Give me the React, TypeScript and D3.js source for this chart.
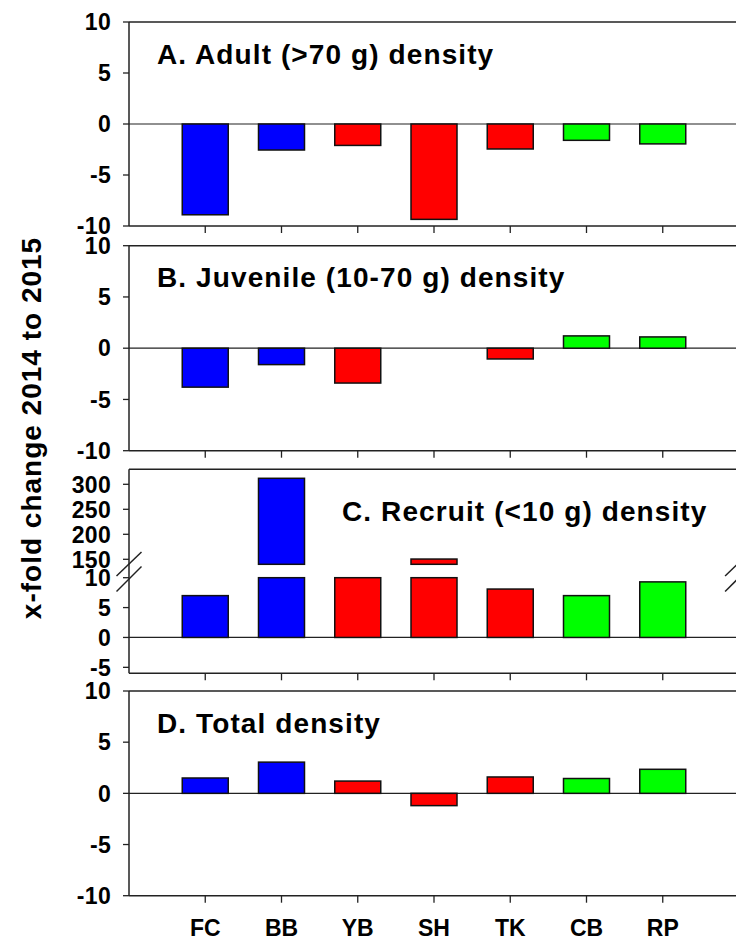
import React from "react";
import * as d3 from "d3";

const categories = ["FC", "BB", "YB", "SH", "TK", "CB", "RP"];
const barColors = ["#0000FF", "#0000FF", "#FF0000", "#FF0000", "#FF0000", "#00FF00", "#00FF00"];
const adultValues = [-8.9, -2.55, -2.1, -9.35, -2.45, -1.6, -1.95];
const juvenileValues = [-3.8, -1.6, -3.4, 0, -1.05, 1.2, 1.1];
const recruitValues = [7.0, 312, 10, 150.5, 8.1, 7.0, 9.3];
const totalValues = [1.5, 3.05, 1.2, -1.2, 1.6, 1.45, 2.35];
const standardTicks = [10, 5, 0, -5, -10];
const recruitLowerTicks = [10, 5, 0, -5];
const recruitUpperTicks = [300, 250, 200, 150];
const panelTitles = [
  "A. Adult (>70 g) density",
  "B. Juvenile (10-70 g) density",
  "C. Recruit (<10 g) density",
  "D. Total density",
];
const yTitle = "x-fold change 2014 to 2015";

const W = 736;
const H = 939;
const X0 = 129;
const X1 = 739;
const BAR_W = 46;
const AXIS = "#222";
const FONT = "'Liberation Sans', Arial, Helvetica, sans-serif";

const x = d3.scaleLinear().domain([0, categories.length + 1]).range([X0, X1]);

function YTicks({ y, ticks }: { y: d3.ScaleLinear<number, number>; ticks: number[] }) {
  return (
    <g>
      {ticks.map((t) => (
        <g key={t}>
          <line x1={X0 - 6} x2={X0} y1={y(t)} y2={y(t)} stroke={AXIS} strokeWidth={1.3} />
          <text
            x={X0 - 18}
            y={y(t)}
            dy="0.36em"
            textAnchor="end"
            fontFamily={FONT}
            fontWeight="bold"
            fontSize={23}
            letterSpacing={0.3}
            fill="#000"
          >
            {t}
          </text>
        </g>
      ))}
    </g>
  );
}

function Frame({ top, bottom }: { top: number; bottom: number }) {
  return (
    <g>
      <line x1={X0} x2={X1} y1={top} y2={top} stroke={AXIS} strokeWidth={1.5} />
      <line x1={X0} x2={X1} y1={bottom} y2={bottom} stroke={AXIS} strokeWidth={1.5} />
      <line x1={X0} x2={X0} y1={top} y2={bottom} stroke={AXIS} strokeWidth={1.5} />
      {categories.map((c, i) => (
        <line key={c} x1={x(i + 1)} x2={x(i + 1)} y1={bottom} y2={bottom + 7} stroke={AXIS} strokeWidth={1.3} />
      ))}
    </g>
  );
}

function Title({ text, tx, ty }: { text: string; tx: number; ty: number }) {
  return (
    <text x={tx} y={ty} fontFamily={FONT} fontWeight="bold" fontSize={28} letterSpacing={1.1} fill="#000">
      {text}
    </text>
  );
}

function SimplePanel({
  values,
  top,
  bottom,
  title,
}: {
  values: number[];
  top: number;
  bottom: number;
  title: string;
}) {
  const y = d3.scaleLinear().domain([-10, 10]).range([bottom, top]);
  return (
    <g>
      <line x1={X0} x2={X1} y1={y(0)} y2={y(0)} stroke={AXIS} strokeWidth={1.2} />
      {values.map((v, i) =>
        v === 0 ? null : (
          <rect
            key={i}
            x={x(i + 1) - BAR_W / 2}
            y={Math.min(y(v), y(0))}
            width={BAR_W}
            height={Math.abs(y(v) - y(0))}
            fill={barColors[i]}
            stroke="#111"
            strokeWidth={1.5}
          />
        )
      )}
      <Frame top={top} bottom={bottom} />
      <YTicks y={y} ticks={standardTicks} />
      <Title text={title} tx={157} ty={top + 41.5} />
    </g>
  );
}

function BreakMark({ cx, cy }: { cx: number; cy: number }) {
  return (
    <g stroke={AXIS} strokeWidth={1.5}>
      <line x1={cx - 12.5} y1={cy + 12} x2={cx + 12.5} y2={cy - 12} />
      <line x1={cx - 12.5} y1={cy + 27.5} x2={cx + 12.5} y2={cy + 2.5} />
    </g>
  );
}

function RecruitPanel() {
  const top = 469.3;
  const bottom = 673.3;
  const upperBottom = 564.3;
  const lowerTop = 577.7;
  const lowerMax = 10;
  const upperMin = 140;
  const yUp = d3.scaleLinear().domain([upperMin, 330]).range([upperBottom, top]);
  const yLo = d3.scaleLinear().domain([-6, lowerMax]).range([bottom, lowerTop]);
  return (
    <g>
      <line x1={X0} x2={X1} y1={yLo(0)} y2={yLo(0)} stroke={AXIS} strokeWidth={1.2} />
      {recruitValues.map((v, i) => {
        const lv = Math.min(v, lowerMax);
        return (
          <g key={i}>
            <rect
              x={x(i + 1) - BAR_W / 2}
              y={yLo(lv)}
              width={BAR_W}
              height={yLo(0) - yLo(lv)}
              fill={barColors[i]}
              stroke="#111"
              strokeWidth={1.5}
            />
            {v > upperMin ? (
              <rect
                x={x(i + 1) - BAR_W / 2}
                y={yUp(v)}
                width={BAR_W}
                height={yUp(upperMin) - yUp(v)}
                fill={barColors[i]}
                stroke="#111"
                strokeWidth={1.5}
              />
            ) : null}
          </g>
        );
      })}
      <Frame top={top} bottom={bottom} />
      <YTicks y={yUp} ticks={recruitUpperTicks} />
      <YTicks y={yLo} ticks={recruitLowerTicks} />
      <BreakMark cx={X0} cy={564} />
      <BreakMark cx={737.6} cy={564} />
      <Title text={panelTitles[2]} tx={342} ty={520.5} />
    </g>
  );
}

export default function App() {
  return (
    <svg
      width={W}
      height={H}
      viewBox={`0 0 ${W} ${H}`}
      style={{ position: "absolute", left: 0, top: 0, background: "#fff" }}
    >
      <rect x={0} y={0} width={W} height={H} fill="#fff" />
      <SimplePanel values={adultValues} top={22} bottom={226} title={panelTitles[0]} />
      <SimplePanel values={juvenileValues} top={245.7} bottom={450.7} title={panelTitles[1]} />
      <RecruitPanel />
      <SimplePanel values={totalValues} top={691} bottom={895.7} title={panelTitles[3]} />
      {categories.map((c, i) => (
        <text
          key={c}
          x={x(i + 1)}
          y={936}
          textAnchor="middle"
          fontFamily={FONT}
          fontWeight="bold"
          fontSize={23}
          fill="#000"
        >
          {c}
        </text>
      ))}
      <text
        transform={`translate(40.5, 428) rotate(-90)`}
        textAnchor="middle"
        fontFamily={FONT}
        fontWeight="bold"
        fontSize={28}
        letterSpacing={1}
        fill="#000"
      >
        {yTitle}
      </text>
    </svg>
  );
}
